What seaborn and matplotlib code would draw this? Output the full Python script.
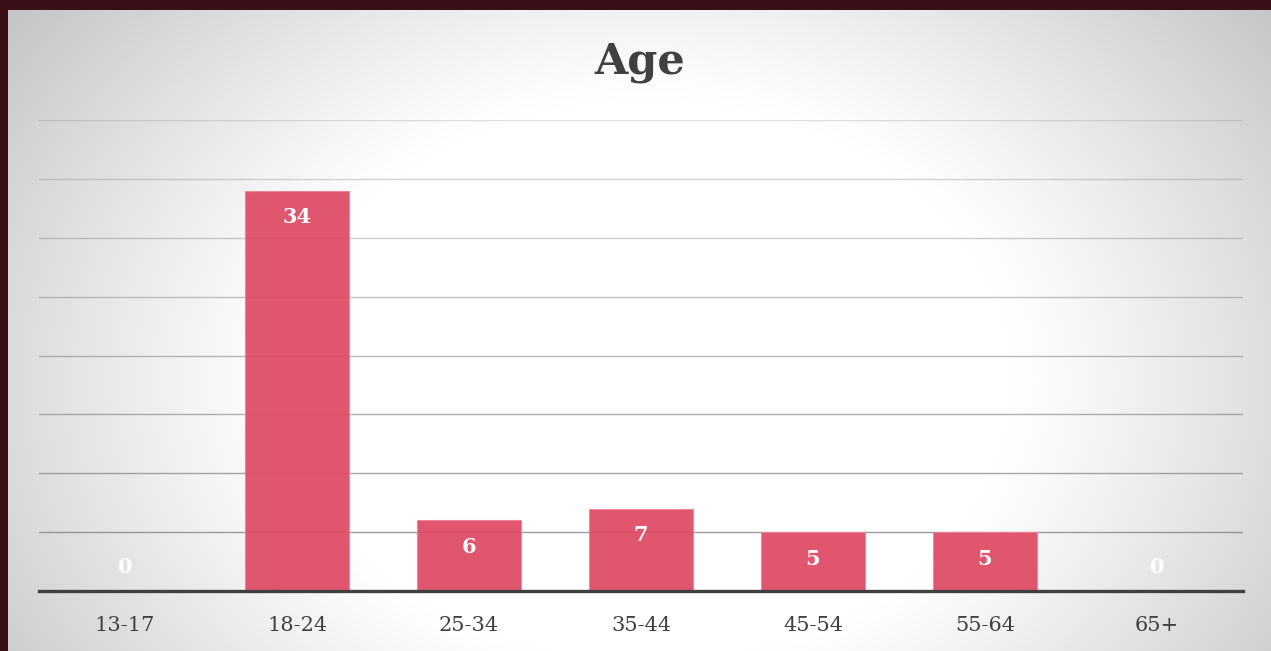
import numpy as np
import pandas as pd
import matplotlib
matplotlib.use("Agg")
import matplotlib.pyplot as plt
import seaborn as sns

categories = ["13-17", "18-24", "25-34", "35-44", "45-54", "55-64", "65+"]
counts = [0, 34, 6, 7, 5, 5, 0]
title = "Age"

sns.set_theme(style="white")
plt.rcParams['font.family'] = ['DejaVu Sans']

W, H = 1271, 651
fig = plt.figure(figsize=(W / 100, H / 100), dpi=100)
fig.patch.set_facecolor("#3b0f18")

# card background with radial gradient
bg = fig.add_axes([8 / W, 0, (W - 8) / W, (H - 10) / H], zorder=0)
gw, gh = W - 8, H - 10
yy, xx = np.mgrid[0:gh, 0:gw]
cx, cy = 640, 370
r = np.sqrt(((xx - cx) / 1.3) ** 2 + (yy - cy) ** 2)
t = np.clip((r - 280) / (600 - 280), 0, 1)
val = 1.0 - 0.22 * t ** 1.1
img = np.dstack([val, val, val])
bg.imshow(img, aspect="auto", extent=[0, 1, 0, 1], interpolation="bilinear")
bg.set_axis_off()

ax = fig.add_axes([39 / W, (H - 591) / H, 1204 / W, 471 / H], zorder=1)
ax.patch.set_alpha(0)

df = pd.DataFrame({"cat": categories, "count": counts})
sns.barplot(data=df, x="cat", y="count", ax=ax, color="#df4863", saturation=1,
            width=0.6, edgecolor="#ec8497", linewidth=0.8, alpha=0.92, zorder=3)

ax.set_ylim(0, 40)
ax.set_xlim(-0.5, len(categories) - 0.5)
yt = np.arange(5, 41, 5)
ax.set_yticks(yt)
for y in yt:
    a = 0.25 + 0.6 * (1 - y / 40)
    ax.axhline(y, color="#808080", linewidth=1.0, alpha=a, zorder=1)
ax.tick_params(axis="y", left=False, labelleft=False)
ax.tick_params(axis="x", bottom=False, pad=12)
for lbl in ax.get_xticklabels():
    lbl.set_fontfamily("DejaVu Serif")
    lbl.set_fontsize(15)
    lbl.set_color("#404040")
ax.set_xlabel("")
ax.set_ylabel("")
for s in ["top", "right", "left"]:
    ax.spines[s].set_visible(False)
ax.spines["bottom"].set_color("#404040")
ax.spines["bottom"].set_linewidth(2.4)
ax.spines["bottom"].set_zorder(5)

for i, v in enumerate(counts):
    off = -19 if v > 0 else 17
    ax.annotate(str(v), (i, v), xytext=(0, off), textcoords="offset points",
                ha="center", va="center", color="white", fontsize=15,
                fontfamily="DejaVu Serif", fontweight="bold", zorder=6)

fig.text(640 / W, 1 - 62 / H, title, ha="center", va="center",
         fontfamily="DejaVu Serif", fontweight="bold", fontsize=31, color="#404040")

fig.savefig("out.png", dpi=100, facecolor=fig.get_facecolor())
